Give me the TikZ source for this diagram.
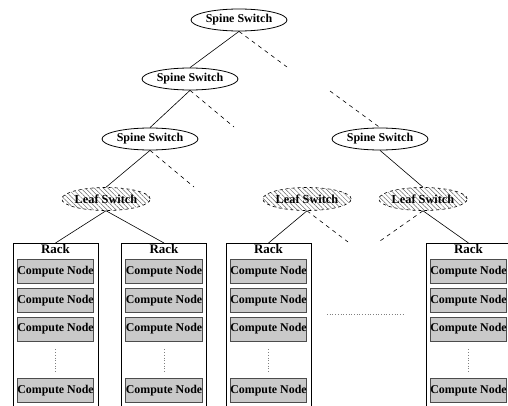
\documentclass[tikz,border=0pt]{standalone}
\usepackage{fontspec}
\setmainfont{Liberation Serif}
\usetikzlibrary{
positioning,
shapes,
patterns.meta
}

\tikzset{
  spine/.style={ellipse,draw,line width=0.8pt,minimum width=96pt,minimum height=22pt,inner sep=0pt,
    font=\bfseries\fontsize{12}{13}\selectfont},
  leaf/.style={ellipse,draw,dashed,line width=0.6pt,
    pattern={Lines[angle=-45,distance=3.2pt,line width=0.5pt]},pattern color=black!60,
    minimum width=88pt,minimum height=23pt,inner sep=0pt,font=\bfseries\fontsize{12.3}{13}\selectfont},
  rack/.style={draw,line width=0.8pt,minimum width=85pt,minimum height=200pt,inner sep=0pt,anchor=north,
    label={[anchor=north,inner sep=1pt,font=\bfseries\fontsize{13}{14}\selectfont]north:Rack}},
  cnode/.style={draw=black!70,line width=0.8pt,fill=black!21,minimum width=67pt,minimum height=24pt,
    inner sep=0pt,font=\bfseries\fontsize{11.9}{12}\selectfont},
  link/.style={line width=0.6pt},
  stub/.style={link,dashed,dash pattern=on 4pt off 4pt},
  more/.style={dotted,line width=0.7pt,black!50}
}

\begin{document}
\begin{tikzpicture}[x=1pt,y=-1pt]
    \clip (0,0) rectangle (508,406);

    % switches
    \node[spine] (S0) at (239,20) {Spine Switch};
    \node[spine] (S1) at (190,79) {Spine Switch};
    \node[spine] (S2) at (150,139) {Spine Switch};
    \node[spine] (S3) at (380,139) {Spine Switch};
    \node[leaf] (L1) at (106,199) {Leaf Switch};
    \node[leaf] (L2) at (307,199) {Leaf Switch};
    \node[leaf] (L3) at (423,199) {Leaf Switch};

    % racks
    \node[rack] (R1) at (55.5,243) {};
    \node[cnode,below=16pt of R1.north] (C11) {Compute Node};
    \node[cnode,below=4pt of C11] (C12) {Compute Node};
    \node[cnode,below=4pt of C12] (C13) {Compute Node};
    \node[cnode,below=37pt of C13] (C14) {Compute Node};
    \draw[more] ([yshift=-8pt]C13.south) -- ([yshift=7pt]C14.north);

    \node[rack] (R2) at (164,243) {};
    \node[cnode,below=16pt of R2.north] (C21) {Compute Node};
    \node[cnode,below=4pt of C21] (C22) {Compute Node};
    \node[cnode,below=4pt of C22] (C23) {Compute Node};
    \node[cnode,below=37pt of C23] (C24) {Compute Node};
    \draw[more] ([yshift=-8pt]C23.south) -- ([yshift=7pt]C24.north);

    \node[rack] (R3) at (268.5,243) {};
    \node[cnode,below=16pt of R3.north] (C31) {Compute Node};
    \node[cnode,below=4pt of C31] (C32) {Compute Node};
    \node[cnode,below=4pt of C32] (C33) {Compute Node};
    \node[cnode,below=37pt of C33] (C34) {Compute Node};
    \draw[more] ([yshift=-8pt]C33.south) -- ([yshift=7pt]C34.north);

    \node[rack] (R4) at (468.5,243) {};
    \node[cnode,below=16pt of R4.north] (C41) {Compute Node};
    \node[cnode,below=4pt of C41] (C42) {Compute Node};
    \node[cnode,below=4pt of C42] (C43) {Compute Node};
    \node[cnode,below=37pt of C43] (C44) {Compute Node};
    \draw[more] ([yshift=-8pt]C43.south) -- ([yshift=7pt]C44.north);

    % racks left out
    \coordinate (M1) at (327,314);
    \coordinate (M2) at (405,314);
    \draw[more] (M1) -- (M2);

    % links
    \draw[link] (S0.south) -- (S1.north);
    \draw[link] (S1.south) -- (S2.north);
    \draw[link] (S2.south) -- (L1.north);
    \draw[link] (S3.south) -- (L3.north);
    \draw[link] (L1.south) -- (R1.north);
    \draw[link] (L1.south) -- (R2.north);
    \draw[link] (L2.south) -- (R3.north);
    \draw[link] (L3.south) -- (R4.north);

    % links going on to the rest of the fabric
    \coordinate (D0) at (287,67);
    \coordinate (D3) at (330,91);
    \coordinate (D1) at (234,127);
    \coordinate (D2) at (194,187);
    \coordinate (D4) at (348,242);
    \coordinate (D5) at (380,241);
    \draw[stub] (S0.south) -- (D0);
    \draw[stub] (D3) -- (S3.north);
    \draw[stub] (S1.south) -- (D1);
    \draw[stub] (S2.south) -- (D2);
    \draw[stub] (L2.south) -- (D4);
    \draw[stub] (L3.south) -- (D5);
  \end{tikzpicture}
\end{document}
